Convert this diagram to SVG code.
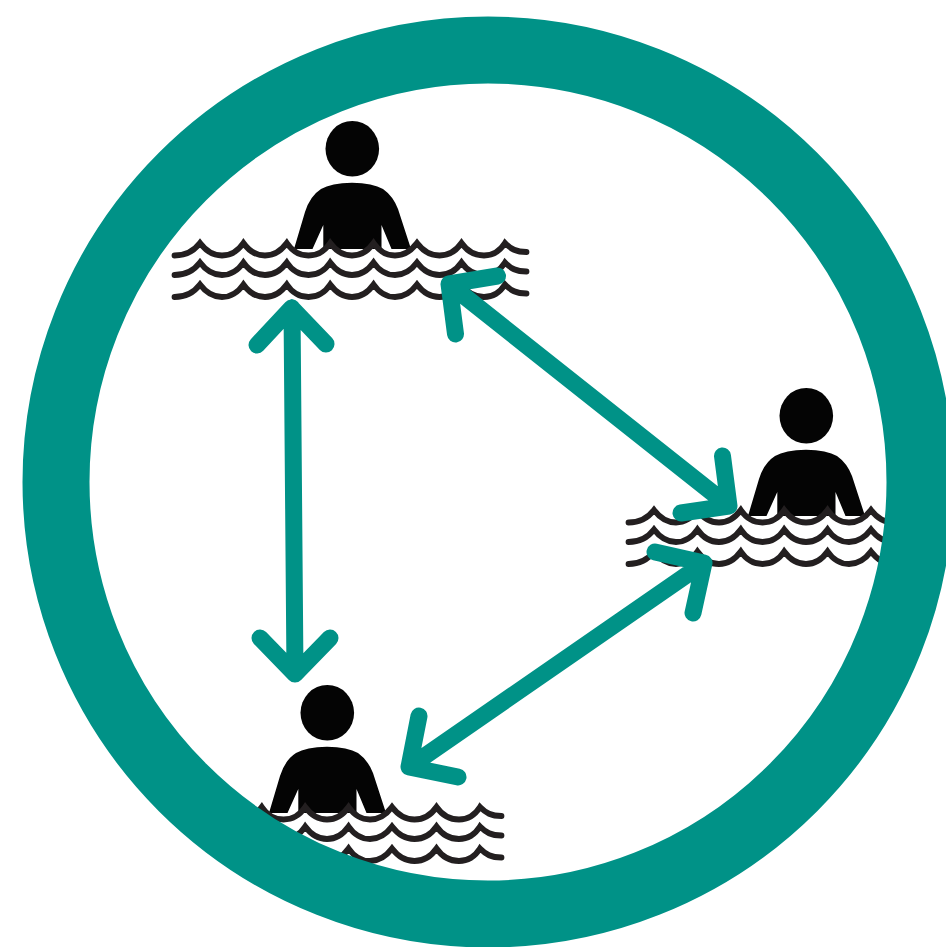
<svg xmlns="http://www.w3.org/2000/svg" width="946" height="947" viewBox="0 0 946 947">
<style>
.wave{fill:none;stroke:#231f20;stroke-width:5.800;stroke-linecap:round;stroke-linejoin:miter;stroke-miterlimit:6}
.body{fill:#040404}
.ring{fill:none;stroke:#009287;stroke-width:67}
.arrow{fill:none;stroke:#009287;stroke-width:17;stroke-linecap:round;stroke-linejoin:round}
</style>
<defs>
<clipPath id="inside"><circle cx="488" cy="482" r="420"/></clipPath>
<path id="wave" d="M174.500 255.500C186 255.500 194 251 200 243C206 251 213 255.500 222 255.500C231 255.500 238 251 243.400 243C249 251 256 255.500 265 255.500C274 255.500 281 251 286.800 243C292 251 299 255.500 308.500 255.500C318 255.500 325 251 330.200 243C336 251 343 255.500 352 255.500C361 255.500 368 251 373.600 243C379 251 386 255.500 395 255.500C404 255.500 411 251 417 243C423 251 430 255.500 439.500 255.500C449 255.500 456 251 461.500 243C467 251 474 255.500 484 255.500C493 255.500 500 251 505 243C511 249 516 252 526.500 252"/>
<g id="swimmer">
<ellipse class="body" cx="352.300" cy="148.800" rx="26.800" ry="27.800"/>
<path class="body" d="M294 249L305 212Q310 196 321 189Q331 183 352 182.700Q373 183 383 189Q393 196 398 209L411 249L391.500 249L381.500 225L381.500 249L323.300 249L323.300 225L312.500 249Z"/>
<use href="#wave" class="wave"/>
<use href="#wave" class="wave" y="19.500"/>
<use href="#wave" class="wave" y="41.500"/>
</g>
</defs>
<g id="node-top"><use href="#swimmer"/></g>
<g id="node-right"><use href="#swimmer" x="454" y="267"/></g>
<g id="node-bottom" clip-path="url(#inside)"><use href="#swimmer" x="-25" y="564"/></g>
<g id="ring"><circle class="ring" cx="488" cy="482" r="432"/></g>
<g id="connectors">
<path class="arrow" d="M292 308L295 674M257 345L291.500 308L326 344M260 638L295 674L330 638"/>
<path class="arrow" d="M449 284L729 506M497.500 276L449 284L455.500 334M681 513L729 506L722.500 456"/>
<path class="arrow" d="M704 563L409 767M655 552L704 563L693 613M419 716L409 767L458 777"/>
</g>
</svg>
